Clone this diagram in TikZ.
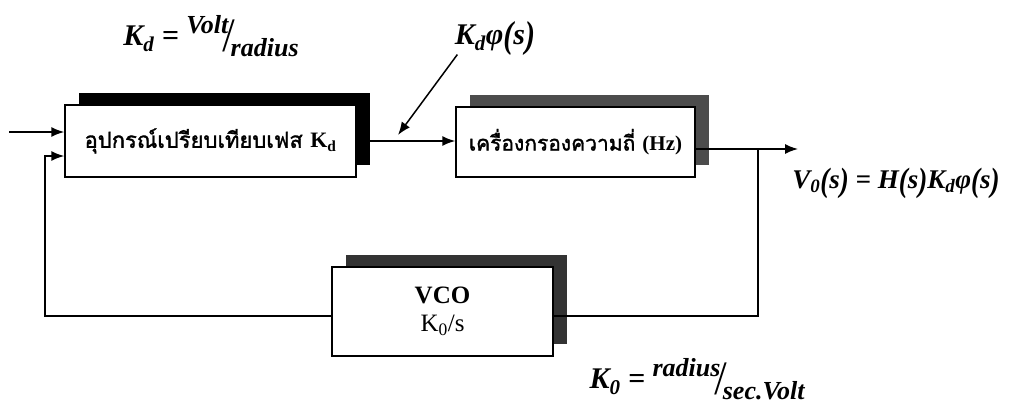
\documentclass[tikz,border=0pt]{standalone}
\usepackage{graphicx}
\usepackage{fontspec}
\setmainfont{Liberation Serif}
\newfontfamily\thaifont[Script=Thai,AutoFakeBold=1.5]{Loma}
\usetikzlibrary{arrows.meta,shadows}

\newcommand*{\ufrac}[2]{\raisebox{0.42em}{\fontsize{26}{26}\selectfont #1}\kern-0.12em\raisebox{-0.18em}{\scalebox{1}[1.6]{/}}\kern-0.08em\raisebox{-0.35em}{\fontsize{26}{26}\selectfont #2}}
\newcommand*{\bp}[1]{\raisebox{-0.1em}{\scalebox{1}[1.25]{(}}#1\raisebox{-0.1em}{\scalebox{1}[1.25]{)}}}

\begin{document}
\begin{tikzpicture}
[
	x=1pt,y=-1pt,
	block/.style={draw,line width=1.5pt,fill=white,inner sep=0pt,
		drop shadow={shadow xshift=14pt,shadow yshift=12pt,fill=#1,opacity=1}},
	block/.default=black,
	sig/.style={-{Latex[length=13pt,width=10pt]},line width=1.5pt},
	wire/.style={line width=1.5pt},
	eq/.style={font=\fontsize{30}{30}\selectfont\bfseries\itshape},
	thai/.style={font=\thaifont\fontsize{22}{22}\selectfont\bfseries}
]
	\useasboundingbox (0,0) rectangle (1012,404);

	% blocks
	\node[block,thai,minimum width=291pt,minimum height=72pt] (pd) at (210.5,141)
		{อุปกรณ์เปรียบเทียบเฟส {\rmfamily K\textsubscript{d}}};
	\node[block=black!70,thai,font=\thaifont\fontsize{21}{21}\selectfont\bfseries,
		minimum width=239pt,minimum height=70pt] (lpf) at (575.5,142)
		{เครื่องกรองความถี่ {\rmfamily (Hz)}};
	\node[block=black!80,minimum width=221pt,minimum height=89pt,align=center,
		font=\fontsize{25}{28}\selectfont] (vco) at (442.5,311.5) {\textbf{VCO}\\K\textsubscript{0}/s};

	% signal path
	\coordinate (in) at (9,132);
	\coordinate (out) at (798,149);
	\coordinate (br) at (758,149);
	\coordinate (fb) at (45,156);
	\draw[sig] (in) -- ([yshift=9pt]pd.west);
	\draw[sig] (pd.east) -- (pd.east -| lpf.west);
	\draw[sig] (lpf.east |- out) -- (out);
	\draw[wire] (br) |- ([yshift=-4.5pt]vco.east);
	\draw[sig] ([yshift=-4.5pt]vco.west) -| (fb) -- ([yshift=-15pt]pd.west);

	% labels
	\node[eq] (kd) at (211,36) {K\textsubscript{d} = \ufrac{Volt}{radius}};
	\node[eq] (kdphi) at (495,38) {K\textsubscript{d}φ\bp{s}};
	\coordinate (kdtip) at (398,135);
	\draw[sig] ([xshift=6pt,yshift=4pt]kdphi.south west) -- (kdtip);
	\node[eq,font=\fontsize{27}{27}\selectfont\bfseries\itshape] (vout) at (896,183)
		{V\textsubscript{0}\bp{s} = H\bp{s}K\textsubscript{d}φ\bp{s}};
	\node[eq] (ko) at (697,379) {K\textsubscript{0} = \ufrac{radius}{sec.Volt}};

\end{tikzpicture}
\end{document}
